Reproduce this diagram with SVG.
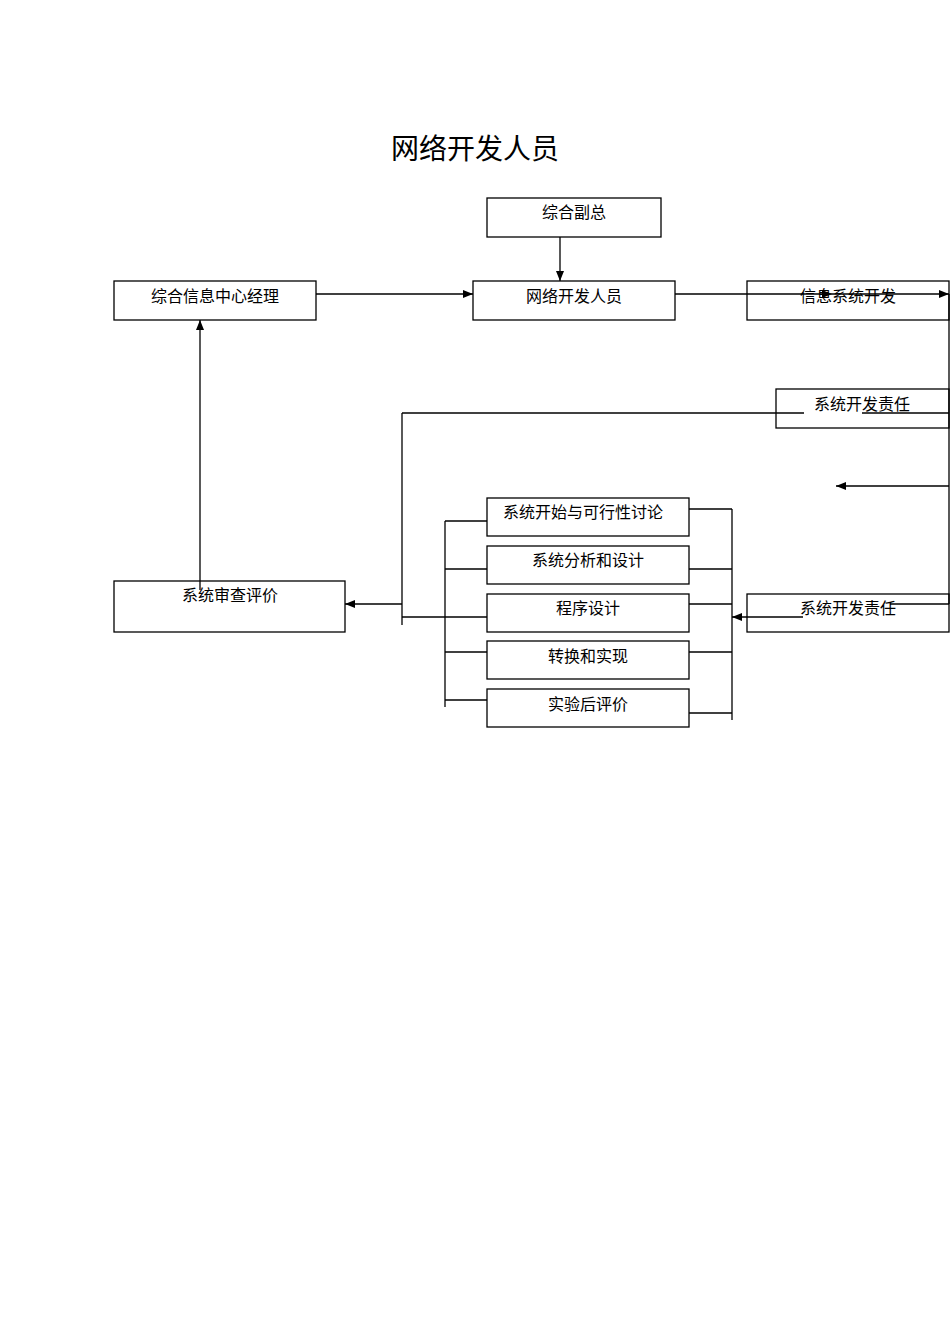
<svg xmlns="http://www.w3.org/2000/svg" width="950" height="1344" viewBox="0 0 950 1344">
<style>
rect{fill:#fff;stroke:#000;stroke-width:1.3}
text{font-family:"Liberation Sans","Noto Sans CJK SC",sans-serif;font-size:16px;text-anchor:middle;fill:#000}
line,polyline{stroke:#000;stroke-width:1.3;fill:none}
.a{marker-end:url(#ar)}
</style>
<defs><marker id="ar" viewBox="0 0 10 10" refX="10" refY="5" markerWidth="10" markerHeight="10" markerUnits="userSpaceOnUse" orient="auto"><path d="M0,1 L10,5 L0,9z" fill="#000"/></marker></defs>
<rect x="0" y="0" width="950" height="1344" style="stroke:none"/>
<text x="475" y="159" style="font-size:28px">网络开发人员</text>
<g id="n1"><rect x="487" y="198" width="174" height="39"/><text x="574" y="218">综合副总</text></g>
<g id="n2"><rect x="114" y="281" width="202" height="39"/><text x="215" y="302">综合信息中心经理</text></g>
<g id="n3"><rect x="473" y="281" width="202" height="39"/><text x="574" y="302">网络开发人员</text></g>
<g id="n4"><rect x="747" y="281" width="202" height="39"/><text x="848" y="302">信息系统开发</text></g>
<g id="n5"><rect x="776" y="389" width="173" height="39"/><text x="862" y="410">系统开发责任</text></g>
<g id="n6"><rect x="114" y="581" width="231" height="51"/><text x="230" y="601">系统审查评价</text></g>
<g id="n7"><rect x="487" y="498" width="202" height="38"/><text x="583" y="518">系统开始与可行性讨论</text></g>
<g id="n8"><rect x="487" y="546" width="202" height="38"/><text x="588" y="566">系统分析和设计</text></g>
<g id="n9"><rect x="487" y="594" width="202" height="38"/><text x="588" y="614">程序设计</text></g>
<g id="n10"><rect x="487" y="641" width="202" height="38"/><text x="588" y="662">转换和实现</text></g>
<g id="n11"><rect x="487" y="689" width="202" height="38"/><text x="588" y="710">实验后评价</text></g>
<g id="n12"><rect x="747" y="594" width="202" height="38"/><text x="848" y="614">系统开发责任</text></g>
<g id="connectors">
<line class="a" x1="560" y1="237" x2="560" y2="281"/>
<line class="a" x1="316" y1="294" x2="473" y2="294"/>
<line class="a" x1="675" y1="294" x2="832" y2="294"/>
<line class="a" x1="832" y1="294" x2="949" y2="294"/>
<line x1="949" y1="294" x2="949" y2="604"/>
<line x1="949" y1="413" x2="862" y2="413"/>
<line x1="804" y1="413" x2="402" y2="413"/>
<line x1="402" y1="413" x2="402" y2="625"/>
<line class="a" x1="402" y1="604" x2="345" y2="604"/>
<line x1="402" y1="617" x2="487" y2="617"/>
<line class="a" x1="949" y1="486" x2="836" y2="486"/>
<line x1="949" y1="604" x2="890" y2="604"/>
<line class="a" x1="803" y1="617" x2="732" y2="617"/>
<line class="a" x1="200" y1="590" x2="200" y2="320"/>
<line x1="445" y1="521" x2="445" y2="707"/>
<line x1="445" y1="521" x2="487" y2="521"/>
<line x1="445" y1="569" x2="487" y2="569"/>
<line x1="445" y1="652" x2="487" y2="652"/>
<line x1="445" y1="700" x2="487" y2="700"/>
<line x1="732" y1="509" x2="732" y2="720"/>
<line x1="689" y1="509" x2="732" y2="509"/>
<line x1="689" y1="569" x2="732" y2="569"/>
<line x1="689" y1="604" x2="732" y2="604"/>
<line x1="689" y1="652" x2="732" y2="652"/>
<line x1="689" y1="713" x2="732" y2="713"/>
</g>
</svg>
